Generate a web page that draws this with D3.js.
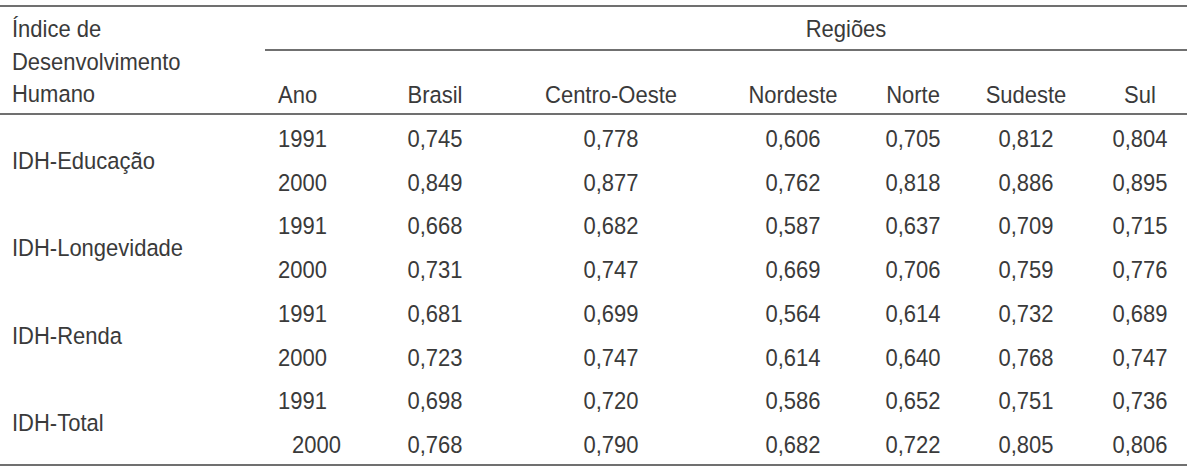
<!DOCTYPE html>
<html><head><meta charset="utf-8">
<script src="https://cdn.jsdelivr.net/npm/d3@7"></script>
<style>
html,body{margin:0;padding:0;background:#fff;}
svg text{font-family:"Liberation Sans",Arial,sans-serif;font-size:22px;fill:#3a3a3a;}
</style></head>
<body><svg id="c" width="1193" height="470"></svg>
<script>
const indicators = ["IDH-Educação","IDH-Longevidade","IDH-Renda","IDH-Total"];
const years = ["1991","2000"];
const regions = ["Brasil","Centro-Oeste","Nordeste","Norte","Sudeste","Sul"];
const stubHeader = ["Índice de","Desenvolvimento","Humano"];
const yearHeader = "Ano";
const spanner = "Regiões";
// rows: indicator x year, values per region
const brasil      = ["0,745","0,849","0,668","0,731","0,681","0,723","0,698","0,768"];
const centroOeste = ["0,778","0,877","0,682","0,747","0,699","0,747","0,720","0,790"];
const nordeste    = ["0,606","0,762","0,587","0,669","0,564","0,614","0,586","0,682"];
const norte       = ["0,705","0,818","0,637","0,706","0,614","0,640","0,652","0,722"];
const sudeste     = ["0,812","0,886","0,709","0,759","0,732","0,768","0,751","0,805"];
const sul         = ["0,804","0,895","0,715","0,776","0,689","0,747","0,736","0,806"];
const seriesValues = [brasil, centroOeste, nordeste, norte, sudeste, sul];

const svg = d3.select("#c");
const SY = 1.08;
const x = d3.scaleOrdinal().domain(regions).range([435, 611, 793, 913, 1026, 1140]);
const yearX = 278;
const nRows = indicators.length * years.length;
const y = d3.scaleLinear().domain([0, nRows - 1]).range([147, 453]);

function txt(g, s, px, py, anchor) {
  return g.append("text").attr("transform", `translate(${px},${py}) scale(1,${SY})`)
    .attr("text-anchor", anchor || "middle").text(s);
}

// rules
const lineColor = "#707070";
const rules = [[0, 1187, 6], [265, 1187, 50], [0, 1187, 114], [0, 1187, 465]];
svg.selectAll("line.rule").data(rules).join("line").attr("class","rule")
  .attr("x1", d => d[0]).attr("x2", d => d[1]).attr("y1", d => d[2]).attr("y2", d => d[2])
  .attr("stroke", lineColor).attr("stroke-width", 2);

// header
const hg = svg.append("g");
const stubY = [37, 70, 102];
stubHeader.forEach((s, i) => txt(hg, s, 12, stubY[i], "start"));
txt(hg, spanner, 846, 37);
txt(hg, yearHeader, yearX, 103, "start");
regions.forEach(r => txt(hg, r, x(r), 103));

// body
const bg = svg.append("g");
indicators.forEach((ind, gi) => {
  const r0 = gi * years.length;
  txt(bg, ind, 12, (y(r0) + y(r0 + 1)) / 2, "start");
  years.forEach((yr, yi) => {
    const ri = r0 + yi;
    const last = ri === nRows - 1;
    txt(bg, yr, yearX + (last ? 14 : 0), y(ri), "start");
    regions.forEach((reg, ci) => txt(bg, seriesValues[ci][ri], x(reg), y(ri)));
  });
});
</script></body></html>
